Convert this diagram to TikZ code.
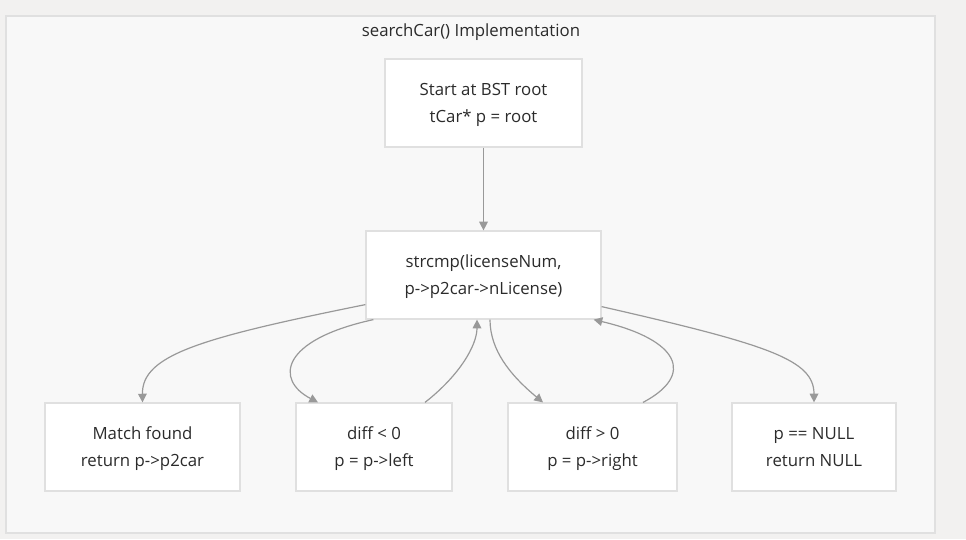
\documentclass[tikz,border=0pt]{standalone}
\usepackage{fontspec}
\setmainfont{Open Sans}
\usetikzlibrary{arrows.meta}
\definecolor{pagebg}{HTML}{F2F1F0}
\definecolor{clusterbg}{HTML}{F8F8F8}
\definecolor{boxline}{HTML}{E0E0E0}
\definecolor{edgecol}{HTML}{999999}
\definecolor{txt}{HTML}{2B2B2B}
\begin{document}
\begin{tikzpicture}[x=0.75pt,y=-0.75pt,
  box/.style={draw=boxline,line width=0.9pt,fill=white,text=txt,align=center,
    font=\fontsize{12.6}{20.3}\selectfont,inner sep=0pt,anchor=center,text depth=0pt},
  edge/.style={draw=edgecol,line width=0.9pt,-{Triangle[length=6.5pt,width=6.5pt]}}]
\fill[pagebg] (0,0) rectangle (966,539);
\useasboundingbox (0,0) rectangle (966,539);
\draw[boxline,fill=clusterbg,line width=0.9pt] (6,16) rectangle (935,533);
\node[text=txt,font=\fontsize{12.6}{15}\selectfont] (title) at (471,32.5) {searchCar() Implementation};
\node[box,minimum width=197*0.75pt,minimum height=88*0.75pt] (start) at (483.5,103) {Start at BST root\\tCar* p = root};
\node[box,minimum width=235*0.75pt,minimum height=88*0.75pt] (s) at (483.5,275) {strcmp(licenseNum,\\p->p2car->nLicense)};
\node[box,minimum width=195*0.75pt,minimum height=88*0.75pt] (m) at (142.5,447) {Match found\\return p->p2car};
\node[box,minimum width=156*0.75pt,minimum height=88*0.75pt] (d1) at (374,447) {diff < 0\\p = p->left};
\node[box,minimum width=169*0.75pt,minimum height=88*0.75pt] (d2) at (592.5,447) {diff > 0\\p = p->right};
\node[box,minimum width=164*0.75pt,minimum height=88*0.75pt] (n) at (814,447) {p == NULL\\return NULL};
\draw[edge] (start) -- (s);
\draw[edge] ([yshift=11.25pt]s.south west) .. controls (200,338) and (142,355) .. (m.north);
\draw[edge] ([xshift=6pt]s.south west) .. controls (280,340) and (275,380) .. ([xshift=-56*0.75pt]d1.north);
\draw[edge] ([xshift=51*0.75pt]d1.north) .. controls (460,375) and (477,345) .. ([xshift=-6.5*0.75pt]s.south);
\draw[edge] ([xshift=6.5*0.75pt]s.south) .. controls (490,350) and (510,375) .. ([xshift=-49.5*0.75pt]d2.north);
\draw[edge] ([xshift=50.5*0.75pt]d2.north) .. controls (695,375) and (680,340) .. ([xshift=-8*0.75pt]s.south east);
\draw[edge] ([yshift=13*0.75pt]s.south east) .. controls (770,345) and (814,360) .. (n.north);
\end{tikzpicture}
\end{document}
